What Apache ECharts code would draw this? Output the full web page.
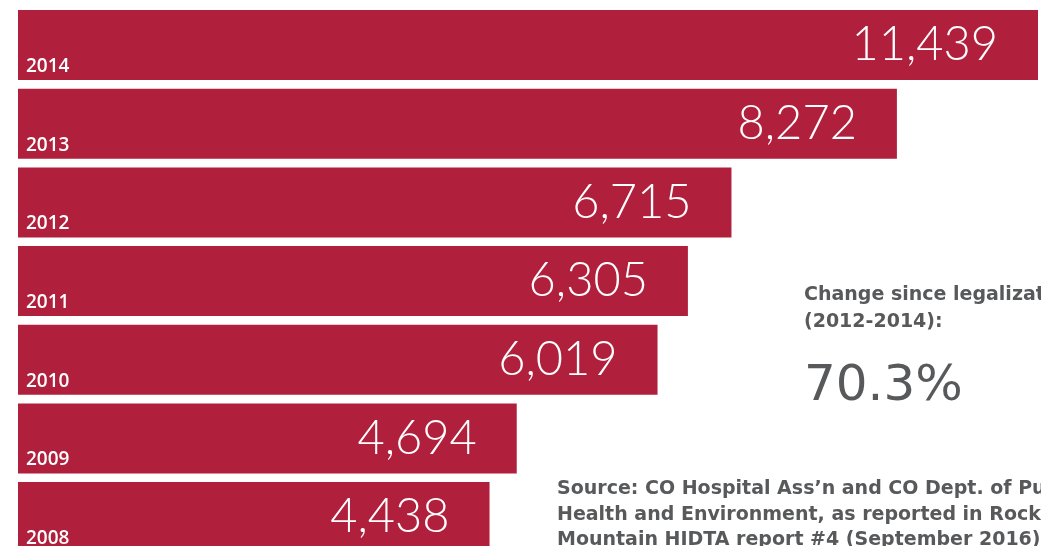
<!DOCTYPE html>
<html>
<head>
<meta charset="utf-8">
<script src="https://cdn.jsdelivr.net/npm/echarts@6/dist/echarts.min.js"></script>
<style>
  html, body { margin: 0; padding: 0; background: #fff; }
  #chart { width: 1041px; height: 546px; }
</style>
</head>
<body>
<div id="chart"></div>
<script>
// 年份（从上到下）
var years = ['2014', '2013', '2012', '2011', '2010', '2009', '2008']
// 急诊就诊数
var visits = [11439, 8272, 6715, 6305, 6019, 4694, 4438]
var changeText = '70.3%'

var red = '#b01f3c'
var grey = '#58595b'

var chart = echarts.init(document.getElementById('chart'))

var option = {
  animation: false,
  grid: {
    left: 18,
    right: 3,
    top: 5.7,
    height: 550.7,
    outerBoundsMode: 'none' // 不要把网格压回容器里，最后一条要被裁掉
  },
  xAxis: {
    type: 'value',
    min: 0,
    max: 9600,
    show: false
  },
  yAxis: {
    type: 'category',
    data: years,
    inverse: true,
    show: false
  },
  series: [
    {
      type: 'bar',
      data: visits,
      barWidth: 70,
      clip: true,
      itemStyle: { color: red },
      label: {
        show: true,
        position: 'insideRight',
        distance: 40,
        color: '#fff',
        fontFamily: 'Lato',
        fontWeight: 300,
        fontSize: 47,
        formatter: function(p) {
          return p.value.toLocaleString('en-US')
        }
      }
    },
    {
      // 透明的叠加层，只用来放年份标签
      type: 'bar',
      data: visits,
      barWidth: 70,
      barGap: '-100%',
      clip: true,
      silent: true,
      itemStyle: { color: 'rgba(0,0,0,0)' },
      label: {
        show: true,
        position: 'insideBottomLeft',
        distance: 4,
        offset: [4, 0],
        color: '#fff',
        fontFamily: 'Open Sans',
        fontWeight: 600,
        fontSize: 19,
        formatter: function(p) {
          return p.name
        }
      }
    }
  ],
  graphic: [
    {
      type: 'text',
      left: 804,
      top: 282,
      style: {
        text: 'Change since legalization\n(2012-2014):',
        font: 'bold 19px "DejaVu Sans"',
        lineHeight: 27,
        fill: grey
      }
    },
    {
      type: 'text',
      left: 804,
      top: 362,
      style: {
        text: changeText,
        font: '50px "DejaVu Sans"',
        fill: grey
      }
    },
    {
      type: 'text',
      left: 557,
      top: 476.5,
      style: {
        text: 'Source: CO Hospital Ass\u2019n and CO Dept. of Public\nHealth and Environment, as reported in Rocky\nMountain HIDTA report #4 (September 2016)',
        font: 'bold 19px "DejaVu Sans"',
        lineHeight: 25.5,
        fill: grey
      }
    }
  ]
}

chart.setOption(option)
window.onresize = function() {
  chart.resize()
}
</script>
</body>
</html>
